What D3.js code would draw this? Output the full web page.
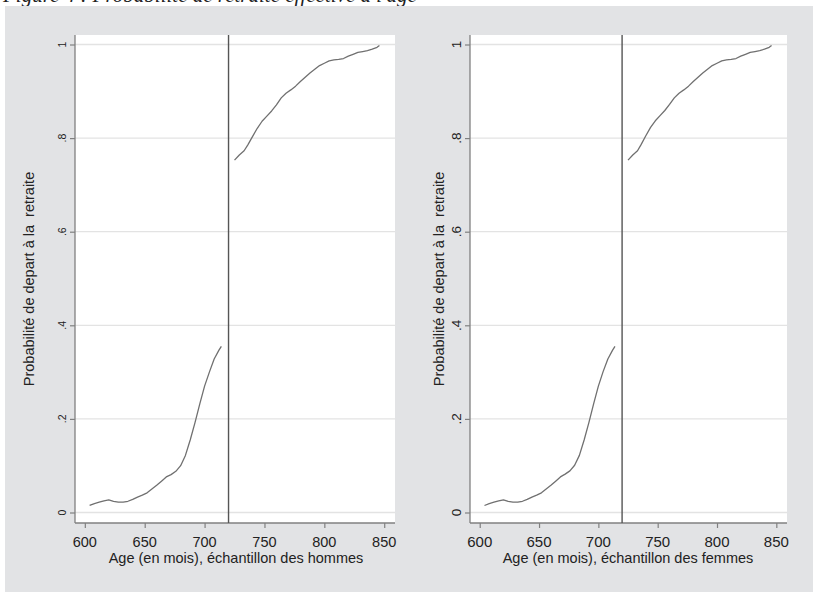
<!DOCTYPE html>
<html>
<head>
<meta charset="utf-8">
<script src="https://cdn.jsdelivr.net/npm/d3@7"></script>
<style>
  html, body { margin: 0; padding: 0; background: #fff; }
  svg { display: block; }
  text { font-family: "Liberation Sans", Arial, sans-serif; fill: #222; }
</style>
</head>
<body>
<svg id="chart" width="813" height="592"></svg>
<script>
// ---- Data ----
const figureTitle = "Figure 4 : Probabilité de retraite effective à l'âge";
const yTitle = "Probabilité de depart à la  retraite";
const xTitleHommes = "Age (en mois), échantillon des hommes";
const xTitleFemmes = "Age (en mois), échantillon des femmes";
const xTicks = [600, 650, 700, 750, 800, 850];
const yTicks = [0, 0.2, 0.4, 0.6, 0.8, 1];
const yTickLabels = ["0", ".2", ".4", ".6", ".8", "1"];
const threshold = 720;

const ageBefore = [604, 608, 612, 616, 620, 624, 628, 632, 636, 640, 644, 648, 652, 656, 660, 664, 668, 672, 676, 680, 684, 688, 692, 696, 700, 704, 708, 712, 714];
const hommesBefore = [0.015, 0.019, 0.022, 0.025, 0.027, 0.024, 0.022, 0.022, 0.024, 0.028, 0.033, 0.037, 0.042, 0.050, 0.058, 0.067, 0.076, 0.081, 0.088, 0.100, 0.122, 0.155, 0.192, 0.232, 0.270, 0.300, 0.328, 0.347, 0.355];
const ageAfter = [725, 729, 733, 736, 740, 744, 748, 752, 756, 760, 764, 768, 772, 776, 780, 784, 788, 792, 796, 800, 804, 808, 812, 816, 820, 824, 828, 832, 836, 840, 844, 846];
const hommesAfter = [0.753, 0.764, 0.773, 0.785, 0.803, 0.821, 0.836, 0.847, 0.858, 0.871, 0.886, 0.896, 0.903, 0.911, 0.921, 0.930, 0.939, 0.947, 0.955, 0.960, 0.965, 0.967, 0.968, 0.970, 0.975, 0.979, 0.983, 0.985, 0.987, 0.990, 0.994, 0.998];
const femmesBefore = [0.015, 0.019, 0.022, 0.025, 0.027, 0.024, 0.022, 0.022, 0.024, 0.028, 0.033, 0.037, 0.042, 0.050, 0.058, 0.067, 0.076, 0.082, 0.089, 0.101, 0.122, 0.155, 0.192, 0.232, 0.270, 0.301, 0.328, 0.347, 0.355];
const femmesAfter = [0.753, 0.764, 0.773, 0.786, 0.805, 0.823, 0.837, 0.848, 0.859, 0.872, 0.886, 0.896, 0.903, 0.911, 0.921, 0.930, 0.939, 0.947, 0.955, 0.960, 0.965, 0.967, 0.968, 0.970, 0.975, 0.979, 0.983, 0.985, 0.987, 0.990, 0.994, 0.998];

// ---- Layout ----
const svg = d3.select("#chart");
svg.append("text")
  .attr("x", 3).attr("y", 1.5)
  .style("font-family", "'Liberation Serif', 'Times New Roman', serif")
  .style("font-style", "italic")
  .style("font-size", "21px")
  .text(figureTitle);

svg.append("rect").attr("x", 5).attr("y", 6).attr("width", 808).attr("height", 586).attr("fill", "#e2e3e5");

const panels = [
  { left: 75, right: 395, before: hommesBefore, after: hommesAfter, xTitle: xTitleHommes,
    yTickSize: 10.5, xTickSize: 14.5, ytickX: 66, ytitleX: 33.5, xTitleX: 236 },
  { left: 470, right: 787, before: femmesBefore, after: femmesAfter, xTitle: xTitleFemmes,
    yTickSize: 13.5, xTickSize: 15, ytickX: 460.5, ytitleX: 443.5, xTitleX: 628 }
];
const plotTop = 35, plotBottom = 523;

panels.forEach(p => {
  const g = svg.append("g");
  const x = d3.scaleLinear().domain([591.8, 859]).range([p.left, p.right]);
  const y = d3.scaleLinear().domain([0, 1]).range([512.5, 44.5]);

  g.append("rect").attr("x", p.left).attr("y", plotTop).attr("width", p.right - p.left).attr("height", plotBottom - plotTop).attr("fill", "#fff");

  // gridlines
  g.selectAll("line.grid").data(yTicks).enter().append("line")
    .attr("x1", p.left).attr("x2", p.right)
    .attr("y1", d => y(d)).attr("y2", d => y(d))
    .attr("stroke", "#e3e3e3").attr("stroke-width", 1.3);

  // axes
  const yAxis = d3.axisLeft(y).tickValues(yTicks).tickSize(5).tickFormat((d, i) => yTickLabels[i]);
  const ya = g.append("g").attr("transform", `translate(${p.left},0)`).call(yAxis);
  ya.select(".domain").remove();
  ya.selectAll(".tick line").attr("stroke", "#808080").attr("stroke-width", 1.2);
  ya.selectAll(".tick text").remove();
  g.append("line").attr("x1", p.left).attr("x2", p.left).attr("y1", plotTop).attr("y2", plotBottom)
    .attr("stroke", "#808080").attr("stroke-width", 1.3);
  g.selectAll("text.ytick").data(yTicks).enter().append("text")
    .attr("transform", d => `translate(${p.ytickX},${y(d)}) rotate(-90)`)
    .attr("text-anchor", "middle")
    .style("font-size", p.yTickSize + "px")
    .text((d, i) => yTickLabels[i]);

  const xAxis = d3.axisBottom(x).tickValues(xTicks).tickSize(5).tickFormat(d3.format("d"));
  const xa = g.append("g").attr("transform", `translate(0,${plotBottom})`).call(xAxis);
  xa.select(".domain").remove();
  xa.selectAll(".tick line").attr("stroke", "#808080").attr("stroke-width", 1.2);
  xa.selectAll(".tick text").remove();
  g.append("line").attr("x1", p.left).attr("x2", p.right).attr("y1", plotBottom).attr("y2", plotBottom)
    .attr("stroke", "#808080").attr("stroke-width", 1.3);
  g.selectAll("text.xtick").data(xTicks).enter().append("text")
    .attr("x", d => x(d)).attr("y", 547)
    .attr("text-anchor", "middle")
    .style("font-size", p.xTickSize + "px")
    .text(d => d);

  // titles
  g.append("text").attr("x", p.xTitleX).attr("y", 563).attr("text-anchor", "middle")
    .style("font-size", "14.5px").text(p.xTitle);
  g.append("text").attr("transform", `translate(${p.ytitleX},${(plotTop + plotBottom) / 2}) rotate(-90)`)
    .attr("text-anchor", "middle").style("font-size", "14.5px").style("white-space", "pre")
    .text(yTitle);

  // threshold line
  g.append("line").attr("x1", x(threshold)).attr("x2", x(threshold)).attr("y1", plotTop).attr("y2", plotBottom)
    .attr("stroke", "#555").attr("stroke-width", 1.4);

  // curves
  const line = d3.line().x(d => x(d[0])).y(d => y(d[1]));
  [[ageBefore, p.before], [ageAfter, p.after]].forEach(([ages, vals]) => {
    g.append("path").datum(ages.map((a, i) => [a, vals[i]]))
      .attr("d", line).attr("fill", "none").attr("stroke", "#707070").attr("stroke-width", 1.3)
      .attr("stroke-linejoin", "round");
  });
});
</script>
</body>
</html>
